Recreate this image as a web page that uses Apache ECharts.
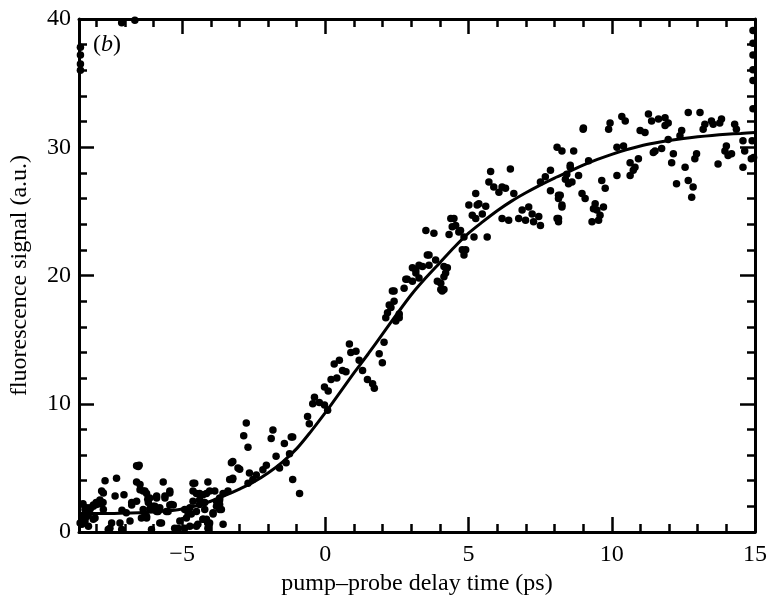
<!DOCTYPE html>
<html>
<head>
<meta charset="utf-8">
<script src="https://cdn.jsdelivr.net/npm/echarts@6/dist/echarts.min.js"></script>
<style>
html,body{margin:0;padding:0;background:#fff;}
#main{width:770px;height:601px;}
</style>
</head>
<body>
<div id="main"></div>
<script>
// tick positions
var majorX = [-5, 0, 5, 10, 15];
var minorX = [-8, -7, -6, -4, -3, -2, -1, 1, 2, 3, 4, 6, 7, 8, 9, 11, 12, 13, 14];

// fitted curve
var fitX = [-8.6, -8, -7.5, -7, -6.5, -6, -5.5, -5, -4.5, -4, -3.5, -3, -2.5, -2, -1.5, -1, -0.5, 0,
    0.5, 1, 1.5, 2, 2.5, 3, 3.5, 4, 4.5, 5, 5.5, 6, 6.5, 7, 7.5, 8, 8.5, 9, 9.5, 10,
    10.5, 11, 11.5, 12, 12.5, 13, 13.5, 14, 14.5, 15];
var fitY = [1.45, 1.45, 1.45, 1.48, 1.5, 1.55, 1.65, 1.8, 2.05, 2.4, 2.85, 3.35, 3.9, 4.6, 5.45, 6.5, 7.85, 9.3,
    10.85, 12.4, 13.9, 15.45, 17.0, 18.5, 19.8, 21.0, 22.2, 23.3, 24.2, 25.05, 25.8, 26.45, 27.05, 27.6, 28.1, 28.6, 29.05, 29.45,
    29.8, 30.1, 30.33, 30.52, 30.68, 30.81, 30.92, 31.01, 31.08, 31.15];

// measured points, left part (before the rise)
var leftPts = [
    [-8.55,37.8],[-8.55,37.2],[-8.55,36.5],[-8.55,36.0],[-7.11,39.7],[-6.65,39.9],
    [-6.59,5.16],[-6.5,5.2],[-7.69,4.0],[-7.29,4.2],[-7.81,3.2],[-7.75,3.05],[-7.34,2.8],[-7.03,2.9],
    [-6.59,3.9],[-6.47,3.3],[-6.30,3.2],[-5.66,3.9],[-5.43,3.2],[-7.87,2.2],[-8.33,1.9],[-8.46,2.2],
    [-8.04,1.1],[-7.46,0.7],[-7.17,0.7],[-7.58,0.2],[-8.56,0.7],[-8.27,1.4],[-6.82,0.85],[-6.76,2.1],
    [-6.20,2.55],[-6.13,1.8],[-6.24,1.2],[-5.89,2.65],[-5.78,1.9],[-5.60,2.8],[-5.78,0.7],[-5.31,2.1],
    [-5.26,0.3],[-5.08,0.85],[-4.62,3.2],[-4.56,3.8],[-4.39,3.0],[-4.10,3.9],[-4.15,3.0],[-3.86,3.2],
    [-3.69,2.65],[-3.80,2.4],[-4.21,1.75],[-4.27,1.0],[-4.11,0.7],[-4.62,2.4],[-4.73,0.45],[-4.50,1.6],
    [-3.57,0.6],[-3.69,1.75],[-3.40,3.2],[-3.24,4.1],[-2.99,4.9],[-2.65,4.6],[-2.76,8.5],[-2.85,7.5],
    [-2.70,6.6],[-3.28,5.4],[-7.52,0.3],[-7.11,0.2],[-6.07,0.2],[-5.14,0.3],[-4.5,0.45],[-4.1,0.3],
    [-8.45,1.2],[-8.50,0.6],[-8.21,1.9],[-8.39,1.75],[-8.1,2.1],[-7.75,1.75],[-7.87,2.5],[-7.1,1.7],
    [-6.95,1.5],[-6.59,2.4],[-6.36,1.75],[-6.30,1.4],[-6.42,1.1],[-6.01,2.0],[-5.84,1.6],[-5.55,1.6],
    [-4.91,1.75],[-4.79,1.4],[-4.85,1.1],[-4.39,2.15],[-4.15,1.0],[-3.92,1.5],[-3.63,1.75],[-3.69,2.15],
    [-3.23,5.5],[-3.05,5.0],[-3.23,4.2],[-3.34,4.1],[-3.57,3.0],[-3.69,2.5],[-3.80,2.0],[-3.92,1.4],
    [-4.62,3.8],[-4.50,3.0],[-4.27,2.9],[-4.39,2.5],[-4.21,2.3],[-4.04,3.2],[-4.68,1.4],[-4.73,1.9],
    [-4.45,0.6],[-4.27,1.0],[-4.04,0.7],[-4.91,0.3],[-8.21,1.8],[-8.1,2.0],[-7.99,2.15],[-7.87,2.3],
    [-7.76,2.3],[-8.33,1.2],[-8.5,0.7],[-8.39,0.85],[-8.27,0.45],[-8.1,1.0],[-6.76,2.3],[-6.53,5.1],
    [-6.47,3.7],[-6.36,3.2],[-6.24,3.0],[-6.18,2.3],[-6.13,2.65],[-5.95,2.0],[-5.89,2.8],[-5.60,2.65],
    [-5.43,3.05],[-5.37,2.15],[-5.49,1.6],[-5.43,2.1],[-5.72,0.7],[-6.24,1.1],[-5.89,1.6],[-8.0,2.3]
];

// rise
var midPts = [
    [-2.41,4.45],[-2.53,4.1],[-2.70,3.8],[-2.06,5.2],[-2.18,4.85],[-1.83,7.95],[-1.89,7.3],[-1.19,7.4],
    [-1.43,6.9],[-1.14,7.4],[-1.25,6.1],[-1.37,5.4],[-1.60,5.0],[-1.72,5.9],[-1.14,4.1],[-0.9,3.0],
    [-0.62,9.0],[-0.56,8.45],[-0.38,10.5],[-0.21,10.1],[-0.44,10.0],[-0.03,9.9],[0.08,9.5],[0.2,11.9],
    [-0.03,11.3],[0.31,13.1],[0.49,13.4],[0.60,12.6],[0.72,12.5],[0.84,14.65],[1.07,14.1],[0.89,14.0],
    [1.18,13.4],[1.30,12.6],[1.47,11.9],[1.65,11.55],[1.71,11.2],[2.05,14.8],[1.88,13.9],[1.99,13.2],
    [2.17,17.1],[2.58,16.7],[2.46,16.45],[2.40,18.8],[2.23,17.7],[2.81,19.7],[3.16,20.45],[3.39,20.7],
    [3.62,20.8],[3.04,19.55],[3.27,19.8],[3.51,23.5],[3.79,23.3],[3.62,21.6],[3.85,21.2],[4.14,20.7],
    [4.20,20.2],[4.03,19.4],[4.14,18.9],[4.38,24.45],[4.43,23.8],[4.72,23.5],[4.84,23.0],[4.78,22.0],
    [4.84,21.6],[4.49,24.45],[4.32,23.2],[4.66,23.4],[4.55,23.9],[3.56,21.6],[3.04,20.6],[3.27,20.8],
    [3.16,20.2],[2.86,19.7],[2.75,19.0],[2.34,18.8],[2.40,18.0],[2.29,17.5],[2.11,16.7],[2.58,17.0],
    [3.91,19.55],[4.03,18.9],[4.08,18.8],[4.26,20.6],[4.14,19.9],[4.9,22.0],[0.1,11.0],[0.4,12.0]
];

// plateau
var rightPts = [
    [5.01,25.5],[5.36,25.6],[5.13,24.7],[5.48,24.8],[5.65,23.0],[5.19,23.0],[5.25,26.4],[5.30,25.5],
    [5.25,24.45],[5.77,28.1],[5.71,27.3],[5.88,26.9],[6.06,26.5],[6.17,26.9],[6.29,26.8],[6.58,26.4],
    [6.17,24.45],[6.40,24.3],[6.46,28.3],[6.87,25.1],[6.99,24.3],[7.1,25.35],[7.22,24.8],[7.27,24.2],
    [7.45,24.6],[7.51,23.9],[6.75,24.45],[7.86,28.2],[7.68,27.7],[7.51,27.3],[7.86,26.6],[8.09,30.0],
    [8.26,29.7],[8.67,29.7],[8.55,28.6],[8.43,27.9],[8.49,27.15],[8.2,26.25],[8.14,26.0],[8.26,25.35],
    [8.09,24.45],[8.14,24.2],[8.14,26.25],[8.26,25.5],[8.14,24.45],[8.55,28.45],[8.84,27.8],[8.61,27.3],
    [8.38,27.5],[9.19,28.95],[9.65,27.4],[9.77,26.8],[8.96,26.4],[9.07,26.0],[9.42,25.6],[9.36,25.2],
    [9.71,25.35],[9.48,25.1],[9.59,24.7],[9.54,24.3],[9.31,24.2],[9.0,31.4],[9.01,31.5],[9.94,31.9],
    [9.89,31.4],[10.18,30.0],[10.41,30.1],[10.35,32.4],[10.47,32.05],[10.99,31.3],[11.16,31.15],[11.28,32.6],
    [11.39,32.05],[11.63,32.2],[11.86,32.3],[11.97,31.9],[11.86,31.7],[12.67,32.7],[13.08,32.7],[13.25,31.8],
    [13.19,31.4],[13.48,32.05],[13.54,31.8],[13.83,32.2],[13.77,31.9],[14.29,31.8],[14.35,31.4],[12.44,31.3],
    [12.38,30.9],[11.97,30.6],[11.74,29.9],[11.51,29.7],[11.45,29.6],[14.0,30.1],[13.95,29.7],[14.18,29.5],
    [14.06,29.35],[14.58,30.5],[14.64,29.7],[14.87,29.1],[14.58,28.45],[12.96,29.5],[12.90,29.1],[13.71,28.7],
    [12.15,29.5],[12.09,28.8],[12.56,28.45],[10.64,28.8],[10.81,28.45],[10.93,29.1],[10.75,28.2],[10.64,27.8],
    [10.18,27.8],[12.67,27.4],[12.84,26.9],[12.79,26.1],[12.26,27.15],[14.93,39.1],[14.93,38.1],[14.93,37.2],
    [14.93,36.05],[14.93,35.2],[14.93,33.0],[14.9,30.5],[14.95,29.2],[5.6,25.4]
];

var fontName = '"Liberation Serif", "Times New Roman", Times, serif';
var fitData = [];
for (var i = 0; i < fitX.length; i++) {
    fitData.push([fitX[i], fitY[i]]);
}
var allPts = leftPts.concat(midPts, rightPts);

function minusFmt(v) {
    return v < 0 ? '\u2212' + Math.abs(v) : String(v);
}

function xAx(pos, ticks, len, showLine, showLabel) {
    return {
        type: 'value', position: pos, min: -8.6, max: 15,
        axisLine: {show: showLine, onZero: false, lineStyle: {color: '#000', width: 3}},
        axisTick: {show: true, inside: true, length: len, customValues: ticks,
            lineStyle: {color: '#000', width: 2.5}},
        axisLabel: {show: showLabel, customValues: majorX, formatter: minusFmt, margin: 11,
            color: '#000', fontFamily: fontName, fontSize: 24},
        splitLine: {show: false}
    };
}

function yAx(pos, showLabel) {
    return {
        type: 'value', position: pos, min: 0, max: 40, interval: 10,
        axisLine: {show: true, onZero: false, lineStyle: {color: '#000', width: 3}},
        axisTick: {show: true, inside: true, length: 15, lineStyle: {color: '#000', width: 2.5}},
        minorTick: {show: true, splitNumber: 5, length: 8, lineStyle: {color: '#000', width: 2.5}},
        axisLabel: {show: showLabel, margin: 8, color: '#000', fontFamily: fontName, fontSize: 24},
        splitLine: {show: false}
    };
}

var myChart = echarts.init(document.getElementById('main'), null, {renderer: 'canvas'});
var xBottom = xAx('bottom', majorX, 15, true, true);
xBottom.name = 'pump\u2013probe delay time (ps)';
xBottom.nameLocation = 'middle';
xBottom.nameGap = 40;
xBottom.nameTextStyle = {color: '#000', fontFamily: fontName, fontSize: 24};
var yLeft = yAx('left', true);
yLeft.name = 'fluorescence signal (a.u.)';
yLeft.nameLocation = 'middle';
yLeft.nameGap = 47;
yLeft.nameTextStyle = {color: '#000', fontFamily: fontName, fontSize: 24};

var option = {
    animation: false,
    backgroundColor: '#fff',
    grid: {left: 79, right: 13, top: 19, bottom: 65, containLabel: false},
    xAxis: [
        xBottom,
        xAx('bottom', minorX, 8, false, false),
        xAx('top', majorX, 15, true, false),
        xAx('top', minorX, 8, false, false)
    ],
    yAxis: [yLeft, yAx('right', false)],
    graphic: [{
        type: 'text', left: 93, top: 33,
        style: {
            text: '{n|(}{i|b}{n|)}',
            rich: {
                n: {fontFamily: fontName, fontSize: 24, fill: '#000'},
                i: {fontFamily: fontName, fontSize: 24, fontStyle: 'italic', fill: '#000'}
            }
        }
    }],
    series: [
        {
            type: 'scatter', xAxisIndex: 0, yAxisIndex: 0,
            symbol: 'circle', symbolSize: 7.5,
            itemStyle: {color: '#000', opacity: 1},
            data: allPts
        },
        {
            type: 'line', xAxisIndex: 0, yAxisIndex: 0,
            showSymbol: false, smooth: 0.3,
            lineStyle: {color: '#000', width: 3},
            data: fitData, z: 3
        }
    ]
};
myChart.setOption(option);
</script>
</body>
</html>
